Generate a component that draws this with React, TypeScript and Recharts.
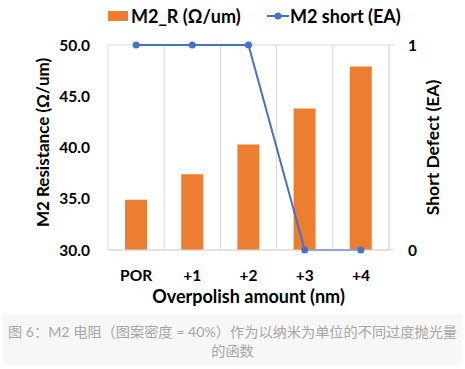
import React from "react";
import { ComposedChart, Bar, Line, XAxis, YAxis, CartesianGrid, Legend } from "recharts";

const categories = ["POR", "+1", "+2", "+3", "+4"];
const m2Resistance = [34.9, 37.4, 40.3, 43.8, 47.9];
const m2Short = [1, 1, 1, 0, 0];
const leftTicks = [30, 35, 40, 45, 50];
const rightTicks = [0, 1];

const ORANGE = "#ED7D31";
const BLUE = "#4472C4";
const GRID = "#d9d9d9";
const FONT = "Lato, 'Open Sans', sans-serif";

const data = categories.map((c, i) => ({ cat: c, r: m2Resistance[i], s: m2Short[i] }));

function LegendBox() {
  return (
    <div
      style={{
        height: 24,
        display: "flex",
        alignItems: "center",
        fontFamily: FONT,
        fontWeight: 700,
        fontSize: 18,
        color: "#000",
        whiteSpace: "nowrap",
      }}
    >
      <span style={{ display: "inline-block", width: 20, height: 10, background: ORANGE, marginLeft: 108 }} />
      <span style={{ marginLeft: 3, width: 136 }}>M2_R (Ω/um)</span>
      <svg width={22} height={10}>
        <line x1={0} y1={5} x2={22} y2={5} stroke={BLUE} strokeWidth={2} />
        <circle cx={11} cy={5} r={3.5} fill={BLUE} />
      </svg>
      <span style={{ marginLeft: 1 }}>M2 short (EA)</span>
    </div>
  );
}

const tickStyle = { fontFamily: FONT, fontWeight: 700, fontSize: 15.5, fill: "#000" };

export default function App() {
  return (
    <div style={{ position: "absolute", left: 0, top: 0, width: 465, height: 369, background: "#fff" }}>
      <ComposedChart width={465} height={310} data={data} margin={{ top: 21, right: 0, bottom: 0, left: 0 }}>
        <CartesianGrid
          stroke={GRID}
          verticalCoordinatesGenerator={({ offset }: any) =>
            [...categories, ""].map((_, i) => offset.left + (offset.width * i) / categories.length)
          }
        />
        <Legend verticalAlign="top" content={() => <LegendBox />} wrapperStyle={{ top: 4, left: 0, width: 465 }} />
        <XAxis
          dataKey="cat"
          axisLine={{ stroke: GRID }}
          tickLine={false}
          tickSize={0}
          tickMargin={20}
          height={60}
          tick={tickStyle}
          label={(p: any) => (
            <text
              x={p.viewBox.x + p.viewBox.width / 2}
              y={303}
              textAnchor="middle"
              style={{ fontFamily: FONT, fontWeight: 700, fontSize: 18, fill: "#000" }}
            >
              Overpolish amount (nm)
            </text>
          )}
        />
        <YAxis
          yAxisId="left"
          width={108}
          domain={[30, 50]}
          ticks={leftTicks}
          axisLine={false}
          tickLine={false}
          tickSize={0}
          tickMargin={18}
          tick={tickStyle}
          tickFormatter={(v: number) => v.toFixed(1)}
          label={(p: any) => (
            <text
              x={42}
              y={p.viewBox.y + p.viewBox.height / 2 - 5}
              textAnchor="middle"
              dominantBaseline="central"
              transform={`rotate(-90, 42, ${p.viewBox.y + p.viewBox.height / 2 - 5})`}
              style={{ fontFamily: FONT, fontWeight: 700, fontSize: 17, fill: "#000" }}
            >
              M2 Resistance (Ω/um)
            </text>
          )}
        />
        <YAxis
          yAxisId="right"
          orientation="right"
          width={76}
          domain={[0, 1]}
          ticks={rightTicks}
          axisLine={{ stroke: GRID }}
          tickLine={{ stroke: GRID }}
          tickSize={5}
          tickMargin={14}
          tick={tickStyle}
          label={(p: any) => (
            <text
              x={432}
              y={p.viewBox.y + p.viewBox.height / 2}
              textAnchor="middle"
              dominantBaseline="central"
              transform={`rotate(-90, 432, ${p.viewBox.y + p.viewBox.height / 2})`}
              style={{ fontFamily: FONT, fontWeight: 700, fontSize: 17.5, fill: "#000" }}
            >
              Short Defect (EA)
            </text>
          )}
        />
        <Bar yAxisId="left" dataKey="r" name="M2_R (Ω/um)" fill={ORANGE} barSize={22} isAnimationActive={false} />
        <Line
          yAxisId="right"
          type="linear"
          dataKey="s"
          name="M2 short (EA)"
          stroke={BLUE}
          strokeWidth={2}
          dot={{ r: 3.5, fill: BLUE, stroke: BLUE, strokeWidth: 0 }}
          isAnimationActive={false}
        />
      </ComposedChart>
      <div
        style={{
          position: "absolute",
          left: 3,
          top: 314,
          width: 459,
          height: 51,
          background: "#f7f7f7",
          color: "#a6a6a6",
          fontFamily: "Lato, 'Noto Sans CJK SC', sans-serif",
          fontSize: 14.2,
          lineHeight: "19px",
          textAlign: "center",
          whiteSpace: "nowrap",
          paddingTop: 8,
          boxSizing: "border-box",
        }}
      >
        图 6：M2 电阻（图案密度 = 40%）作为以纳米为单位的不同过度抛光量
        <br />
        的函数
      </div>
    </div>
  );
}
